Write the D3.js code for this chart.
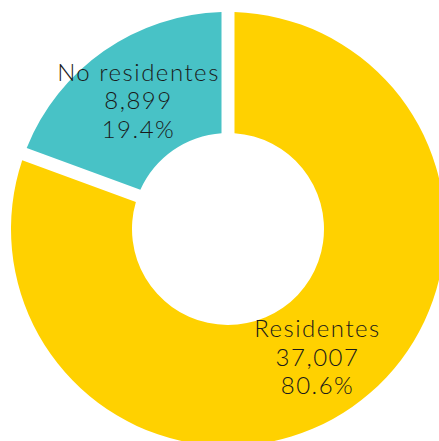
<!DOCTYPE html>
<html>
<head>
<meta charset="utf-8">
<script src="https://cdn.jsdelivr.net/npm/d3@7/dist/d3.min.js"></script>
<style>
  html, body { margin: 0; padding: 0; background: #fff; overflow: hidden; }
  svg { display: block; }
  .lbl { font-family: Lato, "Open Sans", sans-serif; font-weight: 300; font-size: 24px; letter-spacing: 1.5px; fill: #1a1a1a; }
</style>
</head>
<body>
<svg id="chart" width="439" height="441"></svg>
<script>
const categories = ["Residentes", "No residentes"];
const values = [37007, 8899];
const percents = ["80.6%", "19.4%"];
const colors = ["#ffd100", "#48c2c6"];

const width = 439, height = 441;
const cx = 228, cy = 229;
const outerR = 217, innerR = 96;

const svg = d3.select("#chart");
const g = svg.append("g").attr("transform", `translate(${cx},${cy})`);

const data = categories.map((c, i) => ({ name: c, value: values[i], pct: percents[i], color: colors[i] }));

const pie = d3.pie().value(d => d.value).sort(null);
const arc = d3.arc().innerRadius(innerR).outerRadius(outerR).padAngle(0.13).padRadius(100);
const labelArc = d3.arc().innerRadius(innerR).outerRadius(outerR);

const arcs = pie(data);

g.selectAll("path.slice")
  .data(arcs)
  .join("path")
  .attr("class", "slice")
  .attr("d", arc)
  .attr("fill", d => d.data.color);

const fmt = d3.format(",");
const lineH = 28.5;

const labels = g.selectAll("text.lbl")
  .data(arcs)
  .join("text")
  .attr("class", "lbl")
  .attr("text-anchor", "middle")
  .attr("transform", d => `translate(${labelArc.centroid(d)})`);

labels.each(function(d) {
  const t = d3.select(this);
  const lines = [d.data.name, fmt(d.data.value), d.data.pct];
  lines.forEach((s, i) => {
    t.append("tspan")
      .attr("x", 0)
      .attr("y", (i - 1) * lineH)
      .attr("dy", "0.35em")
      .text(s);
  });
});
</script>
</body>
</html>
